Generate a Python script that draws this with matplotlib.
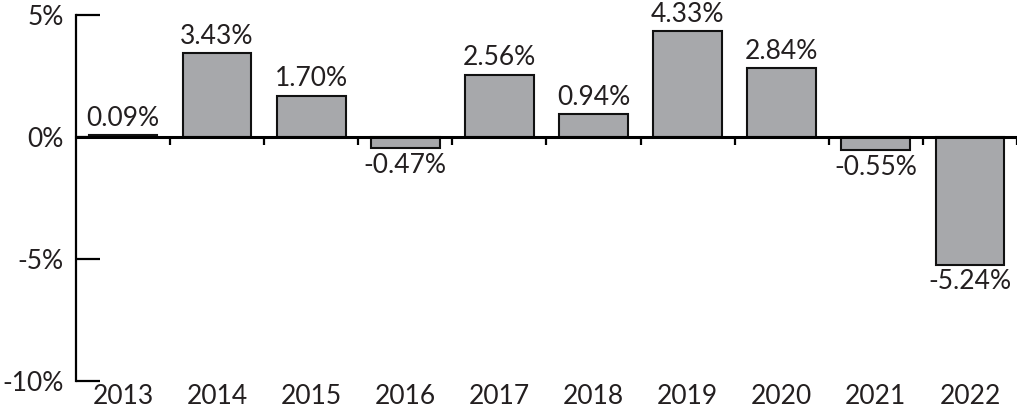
import numpy as np
import matplotlib
matplotlib.use("Agg")
from matplotlib import pyplot as plt

years = ["2013", "2014", "2015", "2016", "2017", "2018", "2019", "2020", "2021", "2022"]
returns = [0.09, 3.43, 1.70, -0.47, 2.56, 0.94, 4.33, 2.84, -0.55, -5.24]
y_ticks = [5, 0, -5, -10]

plt.rcParams['font.family'] = ['Lato', 'DejaVu Sans']
text_color = '#231f20'
fs = 19

fig = plt.figure(figsize=(10.17, 4.17), dpi=100)
ax = fig.add_axes([0.0747, 0.0863, 0.9253, 0.8777])

x = np.arange(len(years))
ax.bar(x, returns, width=0.73, color='#a7a8ab', edgecolor='#111111', linewidth=1.5, zorder=2)

for xi, v in zip(x, returns):
    if v >= 0:
        ax.annotate(f"{v:.2f}%", (xi, v), xytext=(0, 3), textcoords='offset points',
                    ha='center', va='bottom', fontsize=fs, color=text_color)
    else:
        ax.annotate(f"{v:.2f}%", (xi, v), xytext=(0, -3), textcoords='offset points',
                    ha='center', va='top', fontsize=fs, color=text_color)

ax.set_xlim(-0.5, len(years) - 0.5)
ax.set_ylim(-10, 5)

# zero line with boundary ticks
ax.spines['top'].set_visible(False)
ax.spines['right'].set_visible(False)
ax.spines['bottom'].set_position(('data', 0))
ax.spines['bottom'].set_linewidth(2.2)
ax.spines['bottom'].set_zorder(3)
ax.spines['left'].set_linewidth(1.6)
ax.set_xticks(x[1:] - 0.5)
ax.set_xticks([len(years) - 0.5], minor=True)
ax.tick_params(axis='x', which='both', direction='out', length=6, width=1.6, labelbottom=False)

ax.set_yticks(y_ticks)
ax.set_yticklabels([f"{t}%" for t in y_ticks])
ax.tick_params(axis='y', direction='in', length=17, width=1.6, pad=9,
               labelsize=fs, labelcolor=text_color)

sec = ax.secondary_xaxis(0.0)
sec.spines['bottom'].set_visible(False)
sec.set_xticks(x)
sec.set_xticklabels(years)
sec.tick_params(length=0, pad=2, labelsize=fs, labelcolor=text_color)

fig.savefig("out.png", dpi=100)
